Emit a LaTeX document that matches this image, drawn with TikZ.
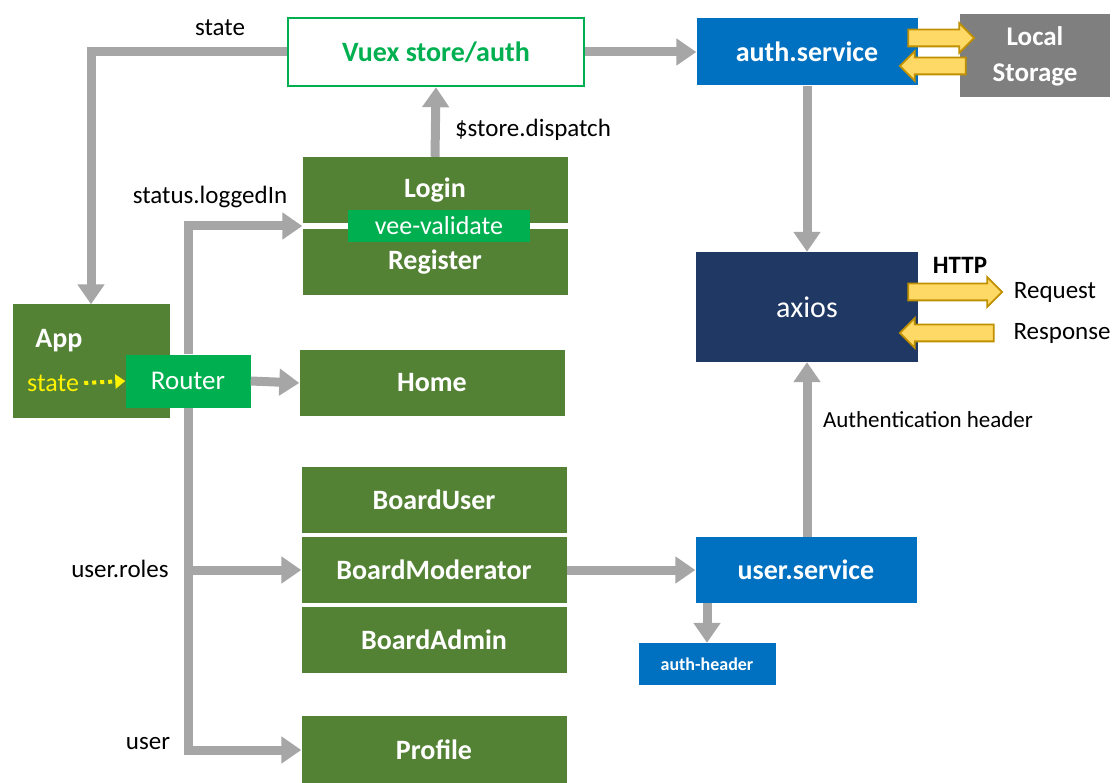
\documentclass[tikz,border=0pt]{standalone}
\usepackage{fontspec}
\setmainfont{Carlito}
\usepackage{tikz}
\usetikzlibrary{arrows.meta,shapes.arrows,calc}
\definecolor{leafgreen}{HTML}{548235}
\definecolor{brightgreen}{HTML}{00B050}
\definecolor{svcblue}{HTML}{0070C0}
\definecolor{navy}{HTML}{203864}
\definecolor{storegray}{HTML}{7F7F7F}
\definecolor{arrgray}{HTML}{A6A6A6}
\definecolor{yfill}{HTML}{FFD966}
\definecolor{yline}{HTML}{BF9000}

\begin{document}
\begin{tikzpicture}[x=1pt, y=-1pt,
    every node/.style={font=\fontsize{25}{27}\selectfont, inner sep=0pt},
    comp/.style={fill=leafgreen, text=white, font=\fontsize{28}{30}\selectfont\bfseries,
                 minimum width=265pt, minimum height=66pt},
    svc/.style={fill=svcblue, text=white, font=\fontsize{28}{30}\selectfont\bfseries,
                minimum width=221pt, minimum height=67pt},
    lbl/.style={text=black},
    arr/.style={draw=arrgray, line width=9pt, -{Triangle[width=26pt,length=20pt]}},
    dotarr/.style={draw=yellow, line width=4pt, dash pattern=on 4pt off 4pt,
                   -{Triangle[width=14pt,length=10pt]}},
    yarr/.style={single arrow, fill=yfill, draw=yline, line width=1.8pt,
                 inner xsep=0pt, inner ysep=7.5pt, single arrow head extend=6.5pt,
                 single arrow head indent=0pt},
]
    \useasboundingbox (0,0) rectangle (1113,783);

    % Store and services (top row)
    \node[draw=brightgreen, line width=2.5pt, fill=white, text=brightgreen,
          font=\fontsize{28}{30}\selectfont\bfseries,
          minimum width=296pt, minimum height=68pt] (vuex) at (436,52) {Vuex store/auth};
    \node[svc] (auth) at (807,52) {auth.service};
    \node[fill=storegray, text=white, font=\fontsize{27}{36}\selectfont\bfseries, align=center,
          minimum width=150pt, minimum height=83pt] (local) at (1035,56) {Local\\Storage};

    % Login / Register with vee-validate
    \node[comp] (login)    at (435,190) {Login};
    \node[comp] (register) at (435,262) {Register};
    \node[fill=brightgreen, text=white, font=\fontsize{26}{28}\selectfont,
          minimum width=182pt, minimum height=32pt] (vee) at (439,226) {vee-validate};

    % App and Router
    \node[fill=leafgreen, minimum width=157pt, minimum height=113pt] (app) at (91,361) {};
    \node[text=white, font=\fontsize{28}{30}\selectfont\bfseries] (apptitle) at (59,341) {App};
    \node[text=yellow, anchor=west, font=\fontsize{26}{28}\selectfont] (appstate) at (27,383) {state};
    \node[fill=brightgreen, text=white, font=\fontsize{27}{29}\selectfont,
          minimum width=125pt, minimum height=53pt] (router) at (188,381) {Router};

    % Routed components
    \node[comp] (home)       at (432,383) {Home};
    \node[comp] (boarduser)  at (434,500) {BoardUser};
    \node[comp] (boardmod)   at (434,570) {BoardModerator};
    \node[comp] (boardadmin) at (434,640) {BoardAdmin};
    \node[comp, minimum height=68pt] (profile) at (434,750) {Profile};

    % axios and user service
    \node[fill=navy, text=white, font=\fontsize{30}{32}\selectfont,
          minimum width=222pt, minimum height=110pt] (axios) at (807,307) {axios};
    \node[svc, minimum height=66pt] (usersvc) at (806,570) {user.service};
    \node[fill=svcblue, text=white, font=\fontsize{18}{20}\selectfont\bfseries,
          minimum width=137pt, minimum height=42pt] (authhdr) at (707,664) {auth-header};

    % Labels
    \node[lbl] (lstate)    at (220,28)  {state};
    \node[lbl] (ldispatch) at (533,130) {\$store.dispatch};
    \node[lbl] (llogged)   at (210,197) {status.loggedIn};
    \node[lbl] (lroles)    at (120,569) {user.roles};
    \node[lbl] (luser)     at (148,744) {user};
    \node[lbl, font=\fontsize{23}{25}\selectfont] (lauthhdr) at (928,420) {Authentication header};
    \node[lbl, font=\fontsize{25}{27}\selectfont\bfseries] (lhttp) at (960,265) {HTTP};
    \node[lbl] (lreq)      at (1055,292) {Request};
    \node[lbl] (lresp)     at (1062,333) {Response};

    % Yellow block arrows
    \node[yarr, minimum height=66pt] (tostore)   at (937,38) {};
    \node[yarr, minimum height=66pt, shape border rotate=180] (fromstore) at (937,66) {};
    \node[yarr, minimum height=94pt] (request)  at (951,292) {};
    \node[yarr, minimum height=94pt, shape border rotate=180] (response) at (951,333) {};

    % Gray connectors
    \draw[arr] (vuex.east) -- (auth.west);
    \draw[arr] (vuex.west) -| (app.north);
    \draw[arr] (login.north) -- (vuex.south);
    \draw[arr] (auth.south) -- (axios.north);
    \draw[arr] (usersvc.north -| axios.south) -- (axios.south);
    \draw[arr] (boardmod.east) -- (usersvc.west);
    \draw[arr] (authhdr.north |- usersvc.south) -- (authhdr.north);
    \draw[arr] (router.east) -- (home.west);

    % Router bus
    \draw[arr] (router.north) |- (vee.west -| login.west);
    \draw[arr] (router.south) |- (profile.west);
    \draw[arr] (router.south |- boardmod.west) -- (boardmod.west);

    % state -> Router
    \draw[dotarr] (appstate.east) ++(5,0) -- (router.west);

\end{tikzpicture}
\end{document}
